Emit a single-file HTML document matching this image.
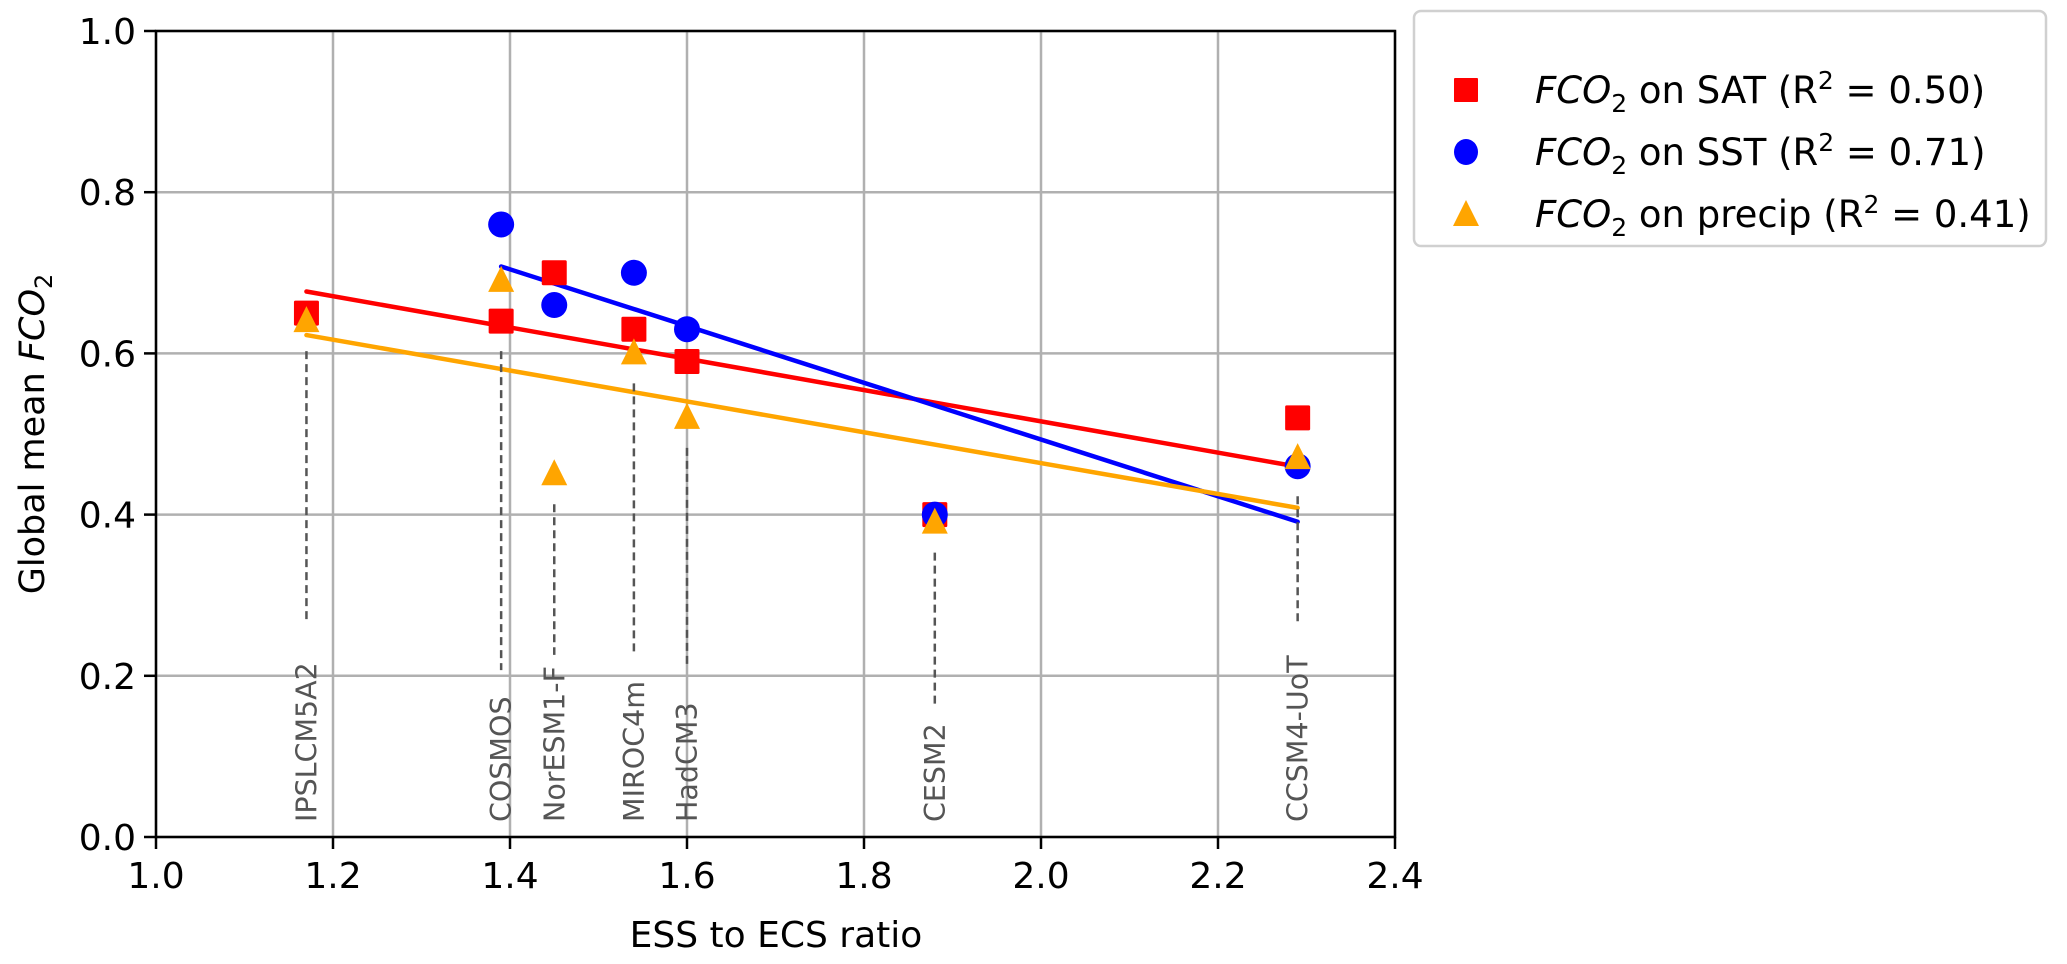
<!DOCTYPE html>
<html><head><meta charset="utf-8"><style>
html,body{margin:0;padding:0;background:#fff;width:2067px;height:964px;overflow:hidden}
svg{display:block;font-family:"DejaVu Sans","Liberation Sans",sans-serif}
</style></head><body>
<svg id="chart" width="2067" height="964" viewBox="0 0 2067 964">
<g id="grid"></g>
<g id="lines"></g>
<g id="guides"></g>
<g id="marks"></g>
<g id="axes"></g>
<text x="0" y="0" transform="translate(44,434) rotate(-90)" text-anchor="middle" font-size="35" fill="#000">Global mean <tspan font-style="italic">FCO</tspan><tspan font-size="24" dy="8">2</tspan></text>
<text x="776" y="947" text-anchor="middle" font-size="36" fill="#000">ESS to ECS ratio</text>
<g>
<rect x="1414" y="11" width="632" height="235" rx="7" fill="#fff" stroke="#d0d0d0" stroke-width="2.5"/>
<g>
<rect x="1454" y="78" width="24" height="24" rx="1" fill="#ff0000"/>
<text x="1535" y="103" font-size="37"><tspan font-style="italic">FCO</tspan><tspan font-size="25" dy="9">2</tspan><tspan dy="-9"> on SAT (R</tspan><tspan font-size="25" dy="-14">2</tspan><tspan dy="14"> = 0.50)</tspan></text></g>
<g>
<ellipse cx="1466" cy="152" rx="12" ry="13" fill="#0000ff"/>
<text x="1535" y="165" font-size="37"><tspan font-style="italic">FCO</tspan><tspan font-size="25" dy="9">2</tspan><tspan dy="-9"> on SST (R</tspan><tspan font-size="25" dy="-14">2</tspan><tspan dy="14"> = 0.71)</tspan></text></g>
<g>
<polygon points="1466,200 1479,226 1453,226" fill="#ffa500"/>
<text x="1535" y="227" font-size="37"><tspan font-style="italic">FCO</tspan><tspan font-size="25" dy="9">2</tspan><tspan dy="-9"> on precip (R</tspan><tspan font-size="25" dy="-14">2</tspan><tspan dy="14"> = 0.41)</tspan></text></g>
</g>
</svg>
<script>
const models = ["IPSLCM5A2","COSMOS","NorESM1-F","MIROC4m","HadCM3","CESM2","CCSM4-UoT"];
const ratio = [1.17,1.39,1.45,1.54,1.60,1.88,2.29];
const satVals = [0.65,0.64,0.70,0.63,0.59,0.40,0.52];
const sstVals = [null,0.76,0.66,0.70,0.63,0.40,0.46];
const precipVals = [0.64,0.69,0.45,0.60,0.52,0.39,0.47];
const guideEnd = [0.27,0.207,0.226,0.226,0.21,0.16,0.262];
const xTicks = [1.0,1.2,1.4,1.6,1.8,2.0,2.2,2.4];
const yTicks = [0.0,0.2,0.4,0.6,0.8,1.0];

const X0=156,X1=1395,Y0=837,Y1=31;
const sx=v=>X0+(v-1.0)/1.4*(X1-X0);
const sy=v=>Y0-(v-0)/1.0*(Y0-Y1);
const NS="http://www.w3.org/2000/svg";
function mk(tag,attrs,parent){const e=document.createElementNS(NS,tag);for(const k in attrs)e.setAttribute(k,attrs[k]);parent.appendChild(e);return e;}
const grid=document.getElementById('grid'),axes=document.getElementById('axes'),lines=document.getElementById('lines'),guides=document.getElementById('guides'),marks=document.getElementById('marks');

xTicks.forEach(t=>{
  const g=mk('line',{x1:sx(t),x2:sx(t),y1:Y1,y2:Y0,stroke:'#b0b0b0','stroke-width':2.5},grid);
  
  
  const tk=mk('line',{x1:sx(t),x2:sx(t),y1:Y0,y2:Y0+12,stroke:'#000','stroke-width':2.5},axes);
  
  
  const tl=mk('text',{x:sx(t),y:Y0+51,'text-anchor':'middle','font-size':36},axes);
  tl.textContent=t.toFixed(1);
  
  
});
yTicks.forEach(t=>{
  const g=mk('line',{x1:X0,x2:X1,y1:sy(t),y2:sy(t),stroke:'#b0b0b0','stroke-width':2.5},grid);
  
  
  const tk=mk('line',{x1:X0-12,x2:X0,y1:sy(t),y2:sy(t),stroke:'#000','stroke-width':2.5},axes);
  
  
  const tl=mk('text',{x:X0-20,y:sy(t)+13,'text-anchor':'end','font-size':36},axes);
  tl.textContent=t.toFixed(1);
  
  
});
const frame=mk('rect',{x:X0,y:Y1,width:X1-X0,height:Y0-Y1,fill:'none',stroke:'#000','stroke-width':2.5},axes);



function fit(vals,color,name){
  const xs=[],ys=[];
  vals.forEach((v,i)=>{if(v!=null){xs.push(ratio[i]);ys.push(v);}});
  const n=xs.length,mx=xs.reduce((a,b)=>a+b)/n,my=ys.reduce((a,b)=>a+b)/n;
  let sxy=0,sxx=0;xs.forEach((x,i)=>{sxy+=(x-mx)*(ys[i]-my);sxx+=(x-mx)*(x-mx);});
  const b=sxy/sxx,a=my-b*mx;const xa=Math.min(...xs),xb=Math.max(...xs);
  const l=mk('line',{x1:sx(xa),y1:sy(a+b*xa),x2:sx(xb),y2:sy(a+b*xb),stroke:color,'stroke-width':4.5,'stroke-linecap':'round'},lines);
  
  
}
fit(satVals,'#ff0000','sat-regression-line');
fit(sstVals,'#0000ff','sst-regression-line');
fit(precipVals,'#ffa500','precip-regression-line');

models.forEach((m,i)=>{
  const x=sx(ratio[i]);
  const vs=[satVals[i],sstVals[i],precipVals[i]].filter(v=>v!=null);
  const top=sy(Math.min(...vs))+30;
  const t=mk('text',{x:0,y:0,transform:`translate(${x+10},822) rotate(-90)`,'font-size':28.5,fill:'#555'},guides);
  t.textContent=m;
  
  
  const d=mk('line',{x1:x,x2:x,y1:top,y2:sy(guideEnd[i]),stroke:'#555','stroke-width':2.5,'stroke-dasharray':'8 5'},guides);
  
  
});

ratio.forEach((r,i)=>{
  const x=sx(r);
  if(satVals[i]!=null){const y=sy(satVals[i]);
    const s=mk('rect',{x:x-12.5,y:y-12.5,width:25,height:25,rx:1.5,fill:'#ff0000'},marks);
    
    }
  if(sstVals[i]!=null){const y=sy(sstVals[i]);
    const c=mk('circle',{cx:x,cy:y,r:13,fill:'#0000ff'},marks);
    
    }
});
ratio.forEach((r,i)=>{
  const x=sx(r);
  if(precipVals[i]!=null){const y=sy(precipVals[i]);
    const p=mk('polygon',{points:`${x},${y-15} ${x+13},${y+11} ${x-13},${y+11}`,fill:'#ffa500'},marks);
    
    }
});
</script>
</body></html>
